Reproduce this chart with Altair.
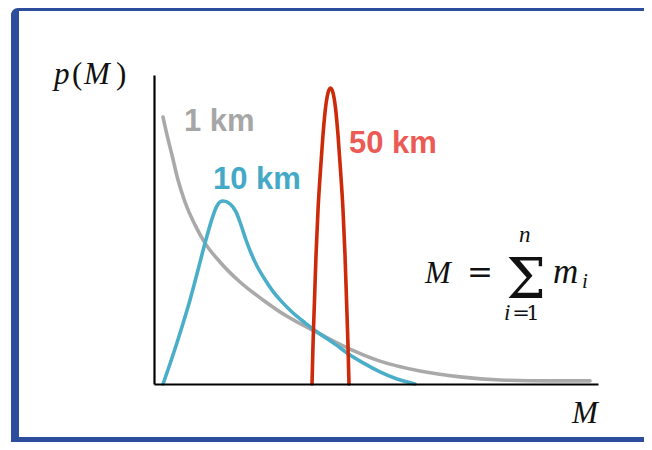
import altair as alt
import pandas as pd

# ---- data (M in arbitrary units 0..10, p(M) 0..1) ----
gray_M = [0.203, 0.293, 0.405, 0.541, 0.698, 0.923, 1.149, 1.486, 1.937, 2.455,
          2.950, 3.739, 4.414, 5.090, 5.991, 6.892, 7.793, 8.919, 9.820]
gray_p = [0.864, 0.806, 0.741, 0.660, 0.589, 0.515, 0.456, 0.395, 0.330, 0.272,
          0.223, 0.162, 0.113, 0.074, 0.042, 0.023, 0.013, 0.010, 0.010]

blue_M = [0.203, 0.405, 0.608, 0.811, 0.991, 1.149, 1.284, 1.396, 1.486, 1.554,
          1.712, 1.847, 1.959, 2.072, 2.185, 2.320, 2.477, 2.658, 2.860, 3.108,
          3.401, 3.739, 4.077, 4.414, 4.752, 5.090, 5.473, 5.878]
blue_p = [0.000, 0.084, 0.175, 0.272, 0.369, 0.456, 0.524, 0.570, 0.589, 0.592,
          0.583, 0.557, 0.515, 0.466, 0.424, 0.382, 0.343, 0.304, 0.269, 0.233,
          0.198, 0.162, 0.129, 0.094, 0.065, 0.039, 0.016, 0.000]

red_M = [3.559, 3.581, 3.615, 3.649, 3.694, 3.750, 3.806, 3.863, 3.919, 3.975,
         4.032, 4.088, 4.144, 4.200, 4.257, 4.302, 4.336, 4.369, 4.392]
red_p = [0.000, 0.126, 0.272, 0.417, 0.563, 0.693, 0.806, 0.893, 0.942, 0.958,
         0.942, 0.893, 0.806, 0.693, 0.563, 0.417, 0.272, 0.126, 0.000]

series_names = ["1 km", "10 km", "50 km"]
curve_colors = ["#a9a9a9", "#4aaec9", "#cc2a08"]
label_colors = ["#a6a6a6", "#43a9c7", "#ec5a55"]
label_M = [0.676, 1.329, 4.392]
label_p = [0.819, 0.631, 0.748]

rows = []
for name, xs_, ys_ in zip(series_names, [gray_M, blue_M, red_M], [gray_p, blue_p, red_p]):
    for i, (a, b) in enumerate(zip(xs_, ys_)):
        rows.append({"series": name, "M": a, "p": b, "i": i})
curves = pd.DataFrame(rows)

labels = pd.DataFrame({"M": label_M, "p": label_p, "text": series_names,
                       "color": label_colors})

xs = alt.Scale(domain=[0, 10], nice=False, zero=False)
ys = alt.Scale(domain=[0, 1], nice=False, zero=False)
xax = alt.Axis(labels=False, ticks=False, grid=False, title=None,
               domainColor="black", domainWidth=2.2, zindex=1)
yax = alt.Axis(labels=False, ticks=False, grid=False, title=None,
               domainColor="black", domainWidth=2.2, zindex=1)

one = pd.DataFrame({"a": [0]})

frame_blue = alt.Chart(one).mark_rect(color="#2c4d9b", cornerRadiusTopLeft=7).encode(
    x=alt.value(-143), x2=alt.value(490), y=alt.value(-67), y2=alt.value(367))
frame_white = alt.Chart(one).mark_rect(color="white").encode(
    x=alt.value(-135), x2=alt.value(490), y=alt.value(-64), y2=alt.value(362))

lines = alt.Chart(curves).mark_line(interpolate="monotone", strokeWidth=3.6,
                                     strokeCap="round").encode(
    x=alt.X("M:Q", scale=xs, axis=xax),
    y=alt.Y("p:Q", scale=ys, axis=yax),
    color=alt.Color("series:N", scale=alt.Scale(domain=series_names, range=curve_colors),
                    legend=None),
    order="i:Q",
)

km_text = alt.Chart(labels).mark_text(font="Liberation Sans", fontWeight="bold",
                                      fontSize=31, align="left", baseline="alphabetic").encode(
    x=alt.X("M:Q", scale=xs), y=alt.Y("p:Q", scale=ys),
    text="text:N", color=alt.Color("color:N", scale=None))

# math annotations (italic letters)
ital_txt = ["p", "M", "M", "M"]
ital_M = [-2.252, -1.577, 9.414, 6.104]
ital_p = [0.971, 0.971, -0.126, 0.327]
ital = pd.DataFrame({"M": ital_M, "p": ital_p, "text": ital_txt})
ital_text = alt.Chart(ital).mark_text(font="Liberation Serif", fontStyle="italic",
                                      fontSize=31, align="left", baseline="alphabetic",
                                      color="#111111").encode(
    x=alt.X("M:Q", scale=xs), y=alt.Y("p:Q", scale=ys), text="text:N")

m_df = pd.DataFrame({"M": [8.986], "p": [0.327], "text": ["m"]})
m_text = alt.Chart(m_df).mark_text(font="Liberation Serif", fontStyle="italic",
                                   fontSize=35, align="left", baseline="alphabetic",
                                   color="#111111").encode(
    x=alt.X("M:Q", scale=xs), y=alt.Y("p:Q", scale=ys), text="text:N")

paren = pd.DataFrame({"M": [-1.847, -0.856], "p": [0.971, 0.971], "text": ["(", ")"]})
paren_text = alt.Chart(paren).mark_text(font="Liberation Serif", fontSize=31,
                                        align="left", baseline="alphabetic",
                                        color="#111111").encode(
    x=alt.X("M:Q", scale=xs), y=alt.Y("p:Q", scale=ys), text="text:N")

small_txt = ["n", "i", "i"]
small_M = [8.221, 7.883, 9.640]
small_p = [0.460, 0.207, 0.311]
small_size = [23, 23, 21]
small = pd.DataFrame({"M": small_M, "p": small_p, "text": small_txt, "s": small_size})
small_text = alt.Chart(small).mark_text(font="Liberation Serif", fontStyle="italic",
                                        align="left", baseline="alphabetic",
                                        color="#111111").encode(
    x=alt.X("M:Q", scale=xs), y=alt.Y("p:Q", scale=ys), text="text:N",
    size=alt.Size("s:Q", scale=None))

lim_txt = ["=", "1"]
lim_M = [8.266, 8.536]
lim_p = [0.207, 0.207]
lim = pd.DataFrame({"M": lim_M, "p": lim_p, "text": lim_txt})
lim_text = alt.Chart(lim).mark_text(font="DejaVu Serif", fontSize=21,
                                    align="center", baseline="alphabetic",
                                    color="#111111").encode(
    x=alt.X("M:Q", scale=xs), y=alt.Y("p:Q", scale=ys), text="text:N")

eq = pd.DataFrame({"M": [7.34], "p": [0.327], "text": ["="]})
eq_text = alt.Chart(eq).mark_text(font="DejaVu Serif", fontSize=31, align="center",
                                  baseline="alphabetic", color="#111111").encode(
    x=alt.X("M:Q", scale=xs), y=alt.Y("p:Q", scale=ys), text="text:N")

sig = pd.DataFrame({"M": [8.378], "p": [0.278], "text": ["Σ"]})
sig_text = alt.Chart(sig).mark_text(font="DejaVu Serif", fontSize=56, align="center",
                                    baseline="alphabetic", color="#111111").encode(
    x=alt.X("M:Q", scale=xs), y=alt.Y("p:Q", scale=ys), text="text:N")

chart = alt.layer(frame_blue, frame_white, lines, km_text, ital_text, m_text, paren_text,
                  small_text, lim_text, eq_text, sig_text).properties(
    width=444, height=309,
    autosize=alt.AutoSizeParams(type="none"),
    padding={"left": 146, "top": 67, "right": 46, "bottom": 58},
    background="white",
).configure_view(strokeWidth=0)

chart.save("out.html", embed_options={"renderer": "svg", "actions": False})
